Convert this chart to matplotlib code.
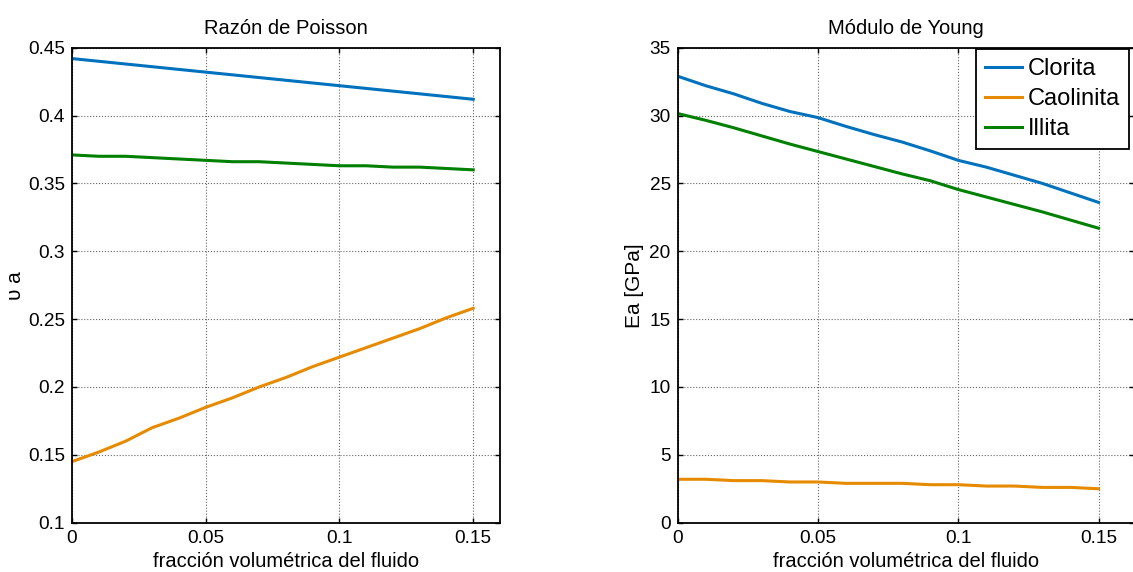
import numpy as np
import matplotlib
matplotlib.use('Agg')
from matplotlib import pyplot as plt

plt.rcParams['font.family'] = ['Liberation Sans', 'DejaVu Sans']

# fraccion volumetrica del fluido
frac = [0.00, 0.01, 0.02, 0.03, 0.04, 0.05, 0.06, 0.07,
        0.08, 0.09, 0.10, 0.11, 0.12, 0.13, 0.14, 0.15]

# Razon de Poisson
nu_clorita = [0.442, 0.440, 0.438, 0.436, 0.434, 0.432, 0.430, 0.428,
              0.426, 0.424, 0.422, 0.420, 0.418, 0.416, 0.414, 0.412]
nu_caolinita = [0.145, 0.152, 0.160, 0.170, 0.177, 0.185, 0.192, 0.200,
                0.207, 0.215, 0.222, 0.229, 0.236, 0.243, 0.251, 0.258]
nu_illita = [0.371, 0.370, 0.370, 0.369, 0.368, 0.367, 0.366, 0.366,
             0.365, 0.364, 0.363, 0.363, 0.362, 0.362, 0.361, 0.360]

# Modulo de Young [GPa]
E_clorita = [32.9, 32.2, 31.6, 30.9, 30.3, 29.85, 29.2, 28.6,
             28.05, 27.4, 26.7, 26.2, 25.6, 25.0, 24.3, 23.6]
E_caolinita = [3.2, 3.2, 3.1, 3.1, 3.0, 3.0, 2.9, 2.9,
               2.9, 2.8, 2.8, 2.7, 2.7, 2.6, 2.6, 2.5]
E_illita = [30.15, 29.65, 29.1, 28.5, 27.9, 27.35, 26.8, 26.25,
            25.7, 25.2, 24.55, 24.0, 23.45, 22.9, 22.3, 21.7]

names = ['Clorita', 'Caolinita', 'Illita']
colors = ['#0072BD', '#E68A00', '#008000']

fig = plt.figure(figsize=(11.33, 5.72), dpi=100)
ax1 = fig.add_axes([0.0635, 0.0862, 0.3778, 0.8304])
ax2 = fig.add_axes([0.5981, 0.0862, 0.4027, 0.8304])


def style_axes(ax):
	ax.grid(True, linestyle=':', color='#666666', linewidth=0.8)
	ax.tick_params(direction='in', length=3.5, width=1, labelsize=13.7,
	               top=True, right=True, pad=5)
	for s in ax.spines.values():
		s.set_linewidth(1.3)


ax1.plot(frac, nu_clorita, color=colors[0], lw=2.2)
ax1.plot(frac, nu_caolinita, color=colors[1], lw=2.2)
ax1.plot(frac, nu_illita, color=colors[2], lw=2.2)
ax1.set_xlim(0, 0.16)
ax1.set_ylim(0.1, 0.45)
ax1.set_xticks([0, 0.05, 0.1, 0.15])
ax1.set_xticklabels(['0', '0.05', '0.1', '0.15'])
ax1.set_yticks([0.1, 0.15, 0.2, 0.25, 0.3, 0.35, 0.4, 0.45])
ax1.set_yticklabels(['0.1', '0.15', '0.2', '0.25', '0.3', '0.35', '0.4', '0.45'])
ax1.set_title('Razón de Poisson', fontsize=14.5, pad=10)
ax1.set_xlabel('fracción volumétrica del fluido', fontsize=14.5, labelpad=4)
ax1.set_ylabel('υ a', fontsize=15, labelpad=2)
style_axes(ax1)

lines = []
for vals, c in zip([E_clorita, E_caolinita, E_illita], colors):
	l, = ax2.plot(frac, vals, color=c, lw=2.2)
	lines.append(l)
ax2.set_xlim(0, 0.1626)
ax2.set_ylim(0, 35)
ax2.set_xticks([0, 0.05, 0.1, 0.15])
ax2.set_xticklabels(['0', '0.05', '0.1', '0.15'])
ax2.set_yticks([0, 5, 10, 15, 20, 25, 30, 35])
ax2.set_title('Módulo de Young', fontsize=14.5, pad=10)
ax2.set_xlabel('fracción volumétrica del fluido', fontsize=14.5, labelpad=4)
ax2.set_ylabel('Ea [GPa]', fontsize=15, labelpad=4)
style_axes(ax2)

leg = fig.legend(lines, names, loc='upper left',
                 bbox_to_anchor=(975.7 / 1133, 1 - 49 / 572),
                 fontsize=17, fancybox=False, framealpha=1, edgecolor='black',
                 borderpad=0.4, labelspacing=0.33, handlelength=1.57,
                 handletextpad=0.22, borderaxespad=0)
leg.get_frame().set_linewidth(1.3)

plt.savefig('out.png', dpi=100)
